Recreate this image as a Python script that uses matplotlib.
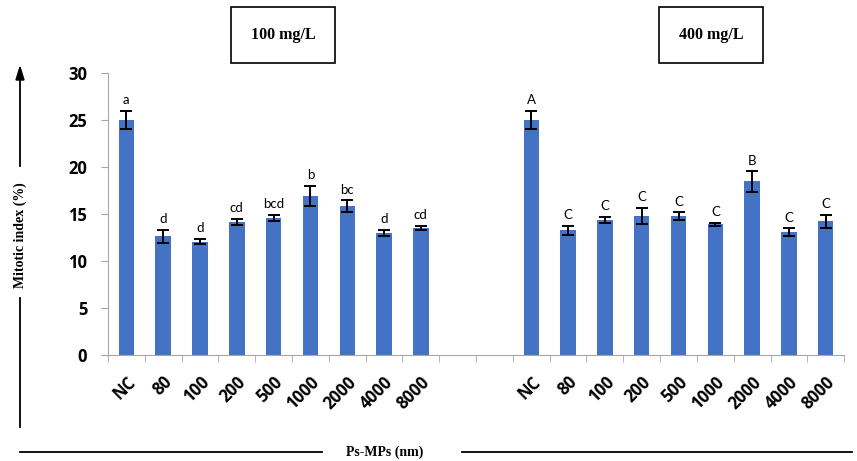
# mitotic index bar chart, two concentrations
import numpy as np
import matplotlib.pyplot as plt
from matplotlib.lines import Line2D

sizes = ['NC', '80', '100', '200', '500', '1000', '2000', '4000', '8000']

mi_100 = [25.0, 12.6, 12.05, 14.15, 14.55, 16.95, 15.8, 13.0, 13.5]
err_100 = [0.95, 0.67, 0.27, 0.33, 0.32, 1.06, 0.64, 0.31, 0.23]
let_100 = ['a', 'd', 'd', 'cd', 'bcd', 'b', 'bc', 'd', 'cd']

mi_400 = [25.0, 13.25, 14.35, 14.8, 14.75, 13.9, 18.45, 13.07, 14.2]
err_400 = [0.95, 0.46, 0.37, 0.88, 0.42, 0.17, 1.08, 0.4, 0.69]
let_400 = ['A', 'C', 'C', 'C', 'C', 'C', 'B', 'C', 'C']

gap = 2
x1 = np.arange(len(sizes))
x2 = x1 + len(sizes) + gap
n_slots = len(sizes) * 2 + gap

fig = plt.figure(figsize=(8.57, 4.61), dpi=100)
ax = fig.add_axes([0.126, 0.230, 0.859, 0.612])

blue = '#4472C4'
for xs, vals, errs, lets in [(x1, mi_100, err_100, let_100), (x2, mi_400, err_400, let_400)]:
    ax.bar(xs, vals, width=0.42, color=blue, zorder=2)
    ax.errorbar(xs, vals, yerr=errs, fmt='none', ecolor='black', elinewidth=1.4,
                capsize=4, capthick=1.4, zorder=3)
    for x, v, e, l in zip(xs, vals, errs, lets):
        ax.text(x, v + e + 0.5, l, ha='center', va='bottom', fontsize=9.5,
                family='Lato')

ax.set_xlim(-0.5, n_slots - 0.5)
ax.set_ylim(0, 30)
ax.set_yticks([0, 5, 10, 15, 20, 25, 30])
ax.set_yticklabels(['0', '5', '10', '15', '20', '25', '30'], fontsize=12,
                   fontweight='bold', family='Open Sans')

ax.set_xticks(list(x1) + list(x2))
ax.set_xticklabels(sizes + sizes, rotation=45, ha='right', rotation_mode='anchor',
                   fontsize=12, fontweight='bold', family='Open Sans')
ax.set_xticks(np.arange(n_slots + 1) - 0.5, minor=True)
ax.tick_params(axis='x', which='major', length=0, pad=13)
ax.tick_params(axis='x', which='minor', length=5, color='#a6a6a6', direction='out')
ax.tick_params(axis='y', length=5, color='#a6a6a6', pad=10)

for s in ['top', 'right']:
    ax.spines[s].set_visible(False)
for s in ['left', 'bottom']:
    ax.spines[s].set_color('#a6a6a6')

# title boxes
for xc, txt in [(283 / 857, '100 mg/L'), (711 / 857, '400 mg/L')]:
    fig.text(xc, 1 - 35 / 461, txt, ha='center', va='center', fontsize=11.5,
             fontweight='bold', family='Liberation Serif',
             bbox=dict(boxstyle='square,pad=1.25', fc='white', ec='black', lw=1.2))

# y label with arrow line
fig.text(20 / 857, 1 - 235 / 461, 'Mitotic index (%)', rotation=90, ha='center',
         va='center', fontsize=10, fontweight='bold', family='Liberation Serif')
fig.add_artist(Line2D([20 / 857, 20 / 857], [1 - 427 / 461, 1 - 298 / 461],
                      color='black', lw=1.3))
fig.add_artist(Line2D([20 / 857, 20 / 857], [1 - 166 / 461, 1 - 80 / 461],
                      color='black', lw=1.3))
fig.patches.append(plt.Polygon([[16 / 857, 1 - 80 / 461], [24 / 857, 1 - 80 / 461],
                                [20 / 857, 1 - 67 / 461]], closed=True, color='black',
                               transform=fig.transFigure, figure=fig))

# x label with lines
fig.text(385 / 857, 1 - 452 / 461, 'Ps-MPs (nm)', ha='center', va='center',
         fontsize=10, fontweight='bold', family='Liberation Serif')
fig.add_artist(Line2D([20 / 857, 322 / 857], [1 - 452 / 461] * 2, color='black', lw=1.3))
fig.add_artist(Line2D([462 / 857, 852 / 857], [1 - 452 / 461] * 2, color='black', lw=1.3))

fig.savefig('out.png', dpi=100)
